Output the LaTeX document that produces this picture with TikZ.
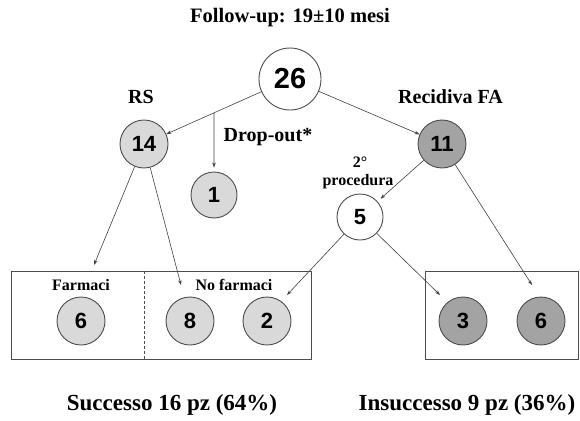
\documentclass[tikz,border=0pt]{standalone}
\usepackage{fontspec}
\setmainfont{Liberation Serif}
\newfontfamily\numfont{Liberation Sans}
\usetikzlibrary{arrows.meta,calc}

\definecolor{lgray}{gray}{0.85}
\definecolor{dgray}{gray}{0.64}
\definecolor{edgec}{gray}{0.3}

\newcommand{\nodesz}{48pt}
\newcommand{\gn}{\node[circle, draw=edgec, line width=0.9pt, minimum size=\nodesz, inner sep=0pt, font=\numfont\bfseries\fontsize{22}{24}\selectfont, fill=lgray]}
\newcommand{\dgn}{\gn[fill=dgray]}
\newcommand{\wtn}{\gn[fill=white]}
\newcommand{\lbl}[1]{\node[inner sep=0pt, font=\bfseries\fontsize{#1}{#1}\selectfont]}

\tikzset{
  arr/.style={-{Stealth[length=5pt,width=3.5pt]}, draw=black!75, line width=0.6pt},
  box/.style={draw=edgec, line width=0.9pt, inner sep=0pt}
}

\begin{document}
\begin{tikzpicture}[x=1pt, y=-1pt]
            \useasboundingbox (0,0) rectangle (580,420);

            % titolo e esiti
            \lbl{20.5} (title) at (290,18) {Follow-up: 19±10 mesi};
            \lbl{23} (succ) at (172,405) {Successo 16 pz (64\%)};
            \lbl{23} (insucc) at (467,405) {Insuccesso 9 pz (36\%)};

            % riquadri
            \node[box, minimum width=300pt, minimum height=88pt] (lbox) at (161,315) {};
            \node[box, minimum width=153pt, minimum height=88pt] (rbox) at (501.5,315) {};
            \draw[edgec, densely dashed, line width=0.6pt]
                (lbox.north west -| 144,0) -- (lbox.south west -| 144,0);

            % albero
            \wtn[minimum size=62pt, font=\numfont\bfseries\fontsize{29}{30}\selectfont] (n26) at (290,79) {26};
            \gn (n14) at (144,144) {14};
            \dgn (n11) at (442,144) {11};
            \gn[minimum size=46pt] (n1) at (214,195) {1};
            \wtn[minimum size=46pt] (n5) at (360,217) {5};

            \gn (f6) at (81,321) {6};
            \gn (nf8) at (190,321) {8};
            \gn (nf2) at (267,321) {2};
            \dgn (r3) at (463,321) {3};
            \dgn (r6) at (541,321) {6};

            % etichette
            \lbl{20} (rs) at (141,97) {RS};
            \lbl{20}[anchor=west] (rfa) at (398,97) {Recidiva FA};
            \lbl{20} (drop) at (268,137) {Drop-out*};
            \lbl{16} (sec) at (360,162) {2°};
            \lbl{16} (proc) at (358,182) {procedura};
            \lbl{16} (farm) at (81,285) {Farmaci};
            \lbl{16} (nofarm) at (234,285) {No farmaci};

            % estremi liberi
            \coordinate (branch) at ($(n26)!{(290-214)/146}!(n14)$);
            \coordinate (e1) at (94,265);
            \coordinate (e2) at (181,285);
            \coordinate (e3) at (287,295);
            \coordinate (e4) at (440,295);
            \coordinate (e5) at (532,285);

            \draw[arr] (n26) -- (n14);
            \draw[arr] (n26) -- (n11);
            \draw[arr, shorten >=4pt] (branch) -- (n1);
            \draw[arr, shorten >=4pt] (n11) -- (n5);
            \draw[arr] (n14) -- (e1);
            \draw[arr] (n14) -- (e2);
            \draw[arr] (n5) -- (e3);
            \draw[arr] (n5) -- (e4);
            \draw[arr] (n11) -- (e5);
        \end{tikzpicture}
\end{document}
